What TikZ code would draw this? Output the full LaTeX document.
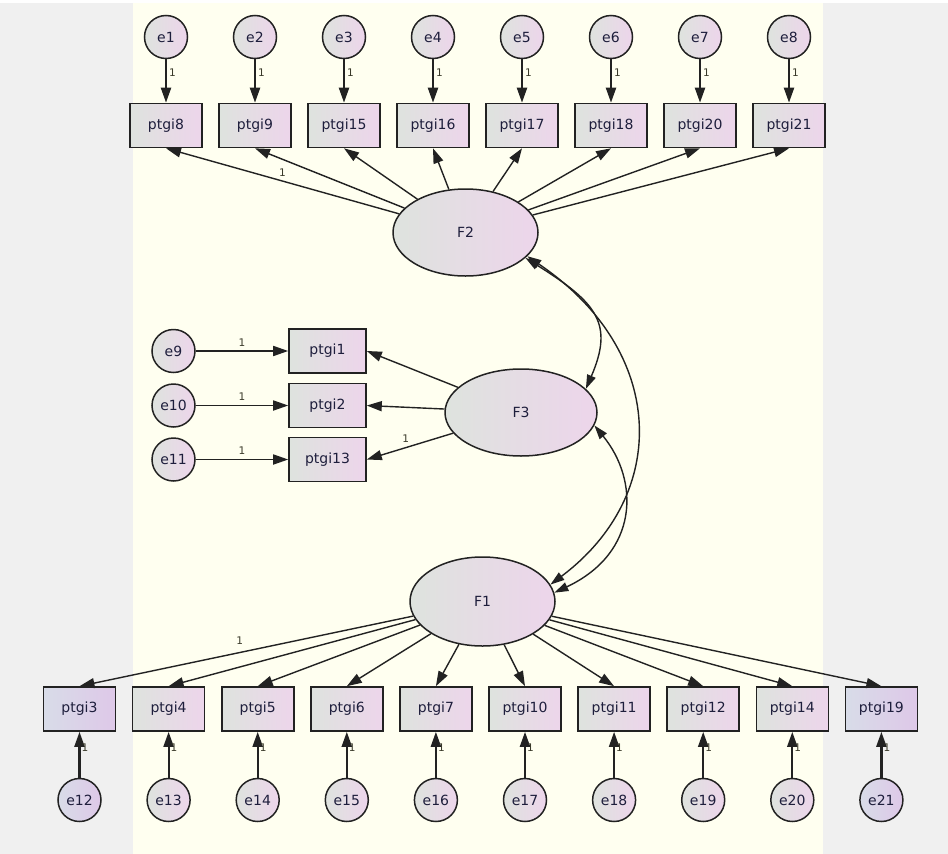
\documentclass[tikz,border=0pt]{standalone}
\usepackage{fontspec}
\setmainfont{DejaVu Sans}
\usetikzlibrary{arrows.meta,shapes.geometric}
\definecolor{bgout}{HTML}{F0F0F0}
\definecolor{bgin}{HTML}{FFFFF0}
\definecolor{fillL}{HTML}{DEE3DE}
\definecolor{fillR}{HTML}{EDD5EB}
\definecolor{fillLp}{HTML}{D8DCE8}
\definecolor{fillRp}{HTML}{DEC8E8}
\definecolor{edge}{HTML}{222222}
\definecolor{txt}{HTML}{1E1E3C}
\definecolor{onec}{HTML}{3A3A2A}
\begin{document}
\begin{tikzpicture}[x=1pt,y=-1pt,
  every node/.style={text=txt},
  obs/.style={rectangle, draw=edge, line width=1.6pt, minimum width=72pt, minimum height=44pt, inner sep=0pt, left color=fillL, right color=fillR, font=\fontsize{14}{16}\selectfont},
  obsp/.style={obs, left color=fillLp, right color=fillRp},
  err/.style={circle, draw=edge, line width=1.5pt, minimum size=43pt, inner sep=0pt, left color=fillL, right color=fillR, font=\fontsize{14}{16}\selectfont},
  errp/.style={err, left color=fillLp, right color=fillRp},
  lat/.style={ellipse, draw=edge, line width=1.5pt, inner sep=0pt, left color=fillL, right color=fillR, font=\fontsize{14}{16}\selectfont},
  load/.style={draw=edge, line width=1.4pt, -{Triangle[length=15pt,width=10pt]}},
  res/.style={load, line width=2.2pt},
  cov/.style={draw=edge, line width=1.4pt, {Triangle[length=14pt,width=9pt]}-{Triangle[length=14pt,width=9pt]}},
  one/.style={font=\fontsize{10.5}{12}\selectfont, inner sep=0pt, text=onec}]
\useasboundingbox (0,0) rectangle (948,854);
\fill[white] (0,0) rectangle (948,854);
\fill[bgout] (0,3) rectangle (948,854);
\fill[bgin] (133,3) rectangle (823,854);

% latent factors
\node[lat, minimum width=145pt, minimum height=87pt] (F2) at (465.5,232.5) {F2};
\node[lat, minimum width=152pt, minimum height=87pt] (F3) at (521,412.5) {F3};
\node[lat, minimum width=145pt, minimum height=89pt] (F1) at (482.5,601.5) {F1};

% top indicators of F2
\foreach \lab [count=\i from 0] in {8,9,15,16,17,18,20,21} {
  \pgfmathsetmacro\xx{166+89*\i}
  \pgfmathtruncatemacro\en{\i+1}
  \node[obs] (t\i) at (\xx,125.5) {ptgi\lab};
  \node[err] (te\i) at (\xx,37) {e\en};
  \draw[res] (te\i) -- (t\i) node[pos=0.3, right=2pt, one] {1};
  \ifnum\i=0
    \draw[load] (F2) -- (t\i.south) node[pos=0.5, above=4pt, one] {1};
  \else
    \draw[load] (F2) -- (t\i.south);
  \fi
}

% middle indicators of F3
\foreach \lab/\en/\yy [count=\i from 0] in {1/9/351, 2/10/405.5, 13/11/459.5} {
  \node[obs, minimum width=77pt] (m\i) at (327.5,\yy) {ptgi\lab};
  \node[err] (me\i) at (173.5,\yy) {e\en};
  \draw[res, line width=1.7pt] (me\i) -- (m\i) node[pos=0.5, above=4pt, one] {1};
  \ifnum\i=2
    \draw[load] (F3) -- (m\i.east) node[pos=0.55, above=4pt, one] {1};
  \else
    \draw[load] (F3) -- (m\i.east);
  \fi
}

% bottom indicators of F1
\foreach \lab [count=\i from 0] in {3,4,5,6,7,10,11,12,14,19} {
  \pgfmathsetmacro\xx{79.5+89.1*\i}
  \pgfmathtruncatemacro\en{\i+12}
  \ifnum\i=0
    \node[obsp] (b\i) at (\xx,709) {ptgi\lab};
    \node[errp] (be\i) at (\xx,800) {e\en};
  \else\ifnum\i=9
    \node[obsp] (b\i) at (\xx,709) {ptgi\lab};
    \node[errp] (be\i) at (\xx,800) {e\en};
  \else
    \node[obs] (b\i) at (\xx,709) {ptgi\lab};
    \node[err] (be\i) at (\xx,800) {e\en};
  \fi\fi
  \draw[res] (be\i) -- (b\i) node[pos=0.66, right=1pt, one] {1};
  \ifnum\i=0
    \draw[load] (F1) -- (b\i.north) node[pos=0.52, above=7pt, one] {1};
  \else
    \draw[load] (F1) -- (b\i.north);
  \fi
}

% covariances
\draw[cov] (F2.-23) .. controls +(72,45) and +(28,-65) .. (F3.20);
\draw[cov] (F2.-21) .. controls +(140,95) and +(120,-90) .. (F1.14);
\draw[cov] (F3.-10) .. controls +(45,55) and +(85,-40) .. (F1.7);
\end{tikzpicture}
\end{document}
